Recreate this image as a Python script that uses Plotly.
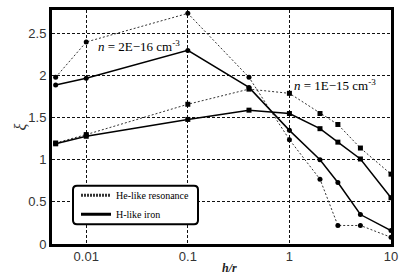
import plotly.graph_objects as go

# data
hr = [0.005, 0.01, 0.1, 0.4, 1, 2, 3, 5, 10]
he_2e16 = [1.98, 2.40, 2.74, 1.98, 1.24, 0.77, 0.22, 0.22, 0.08]
h_2e16 = [1.89, 1.97, 2.30, 1.86, 1.35, 1.00, 0.73, 0.35, 0.16]
he_1e15 = [1.20, 1.30, 1.66, 1.84, 1.79, 1.55, 1.42, 1.14, 0.83]
h_1e15 = [1.19, 1.28, 1.48, 1.59, 1.55, 1.37, 1.21, 1.01, 0.55]
x_ticks = [0.01, 0.1, 1, 10]
x_tick_text = ["0.01", "0.1", "1", "10"]
y_ticks = [0, 0.5, 1, 1.5, 2, 2.5]
y_tick_text = ["0", "0.5", "1", "1.5", "2", "2.5"]
legend_names = ["He-like resonance", "H-like iron"]

Y_MIN, Y_MAX = 0.0, 2.78

W, H = 409, 279
L, R, T, B = 52, 18, 7, 35
pw, ph = W - L - R, H - T - B

def px(xp):
    return (xp - L) / pw

def py(yp):
    return (H - B - yp) / ph

fig = go.Figure()

dot_line = dict(color="#333333", width=1, dash="2px,2px")
solid_line = dict(color="black", width=1.5)

fig.add_trace(go.Scatter(x=hr, y=he_2e16, mode="lines+markers", line=dot_line,
                         marker=dict(symbol="circle", size=5, color="black"), showlegend=False))
fig.add_trace(go.Scatter(x=hr, y=h_2e16, mode="lines+markers", line=solid_line,
                         marker=dict(symbol="circle", size=5, color="black"), showlegend=False))
fig.add_trace(go.Scatter(x=hr, y=he_1e15, mode="lines+markers", line=dot_line,
                         marker=dict(symbol="square", size=5, color="black"), showlegend=False))
fig.add_trace(go.Scatter(x=hr, y=h_1e15, mode="lines+markers", line=solid_line,
                         marker=dict(symbol="square", size=5, color="black"), showlegend=False))

# legend-only traces
fig.add_trace(go.Scatter(x=[None], y=[None], mode="lines", name=legend_names[0],
                         line=dict(color="#333333", width=3, dash="2px,1px")))
fig.add_trace(go.Scatter(x=[None], y=[None], mode="lines", name=legend_names[1],
                         line=dict(color="black", width=3)))

# rounded legend box
x0, x1 = px(73), px(198)
y1, y0 = py(185), py(224)
rx, ry = 4 / pw, 4 / ph
path = (f"M {x0+rx},{y0} L {x1-rx},{y0} Q {x1},{y0} {x1},{y0+ry} "
        f"L {x1},{y1-ry} Q {x1},{y1} {x1-rx},{y1} L {x0+rx},{y1} "
        f"Q {x0},{y1} {x0},{y1-ry} L {x0},{y0+ry} Q {x0},{y0} {x0+rx},{y0} Z")
fig.add_shape(type="path", path=path, xref="paper", yref="paper",
              line=dict(color="black", width=2), fillcolor="white", layer="above")

axis_common = dict(showgrid=True, gridcolor="#111111", griddash="3px,2px", gridwidth=1.3,
                   showline=True, linecolor="black", linewidth=3, mirror=True,
                   zeroline=False, ticks="",
                   tickfont=dict(family="Liberation Sans", size=13, color="#333333"))

fig.update_layout(
    width=W, height=H,
    margin=dict(l=L, r=R, t=T, b=B),
    paper_bgcolor="white", plot_bgcolor="white",
    showlegend=True,
    legend=dict(x=px(76), y=py(180), xanchor="left", yanchor="top",
                bgcolor="rgba(0,0,0,0)", borderwidth=0,
                font=dict(family="Liberation Serif", size=10, color="black"),
                tracegroupgap=0, itemwidth=30),
    xaxis=dict(type="log", range=[-2.337, 1.0], tickvals=x_ticks, ticktext=x_tick_text,
               ticklabelstandoff=-2, **axis_common),
    yaxis=dict(range=[Y_MIN, Y_MAX], tickvals=y_ticks, ticktext=y_tick_text, **axis_common),
    annotations=[
        dict(text="<i>n</i> = 2E−16 cm<sup>-3</sup>", xref="paper", yref="paper",
             x=px(96), y=py(43), xanchor="left", yanchor="middle", showarrow=False,
             font=dict(family="Liberation Serif", size=13, color="black")),
        dict(text="<i>n</i> = 1E−15 cm<sup>-3</sup>", xref="paper", yref="paper",
             x=px(292), y=py(83), xanchor="left", yanchor="middle", showarrow=False,
             font=dict(family="Liberation Serif", size=13, color="black")),
        dict(text="<i>ξ</i>", xref="paper", yref="paper", x=px(20), y=py(126),
             xanchor="center", yanchor="middle", showarrow=False, textangle=-90,
             font=dict(family="Liberation Serif", size=16, color="#333333")),
        dict(text="<i><b>h/r</b></i>", xref="paper", yref="paper", x=px(229), y=py(268),
             xanchor="center", yanchor="middle", showarrow=False,
             font=dict(family="Liberation Serif", size=12, color="#222222")),
    ],
)

fig.write_html("out.html", config={"displayModeBar": False},
               post_script="document.body.style.margin='0px';")
